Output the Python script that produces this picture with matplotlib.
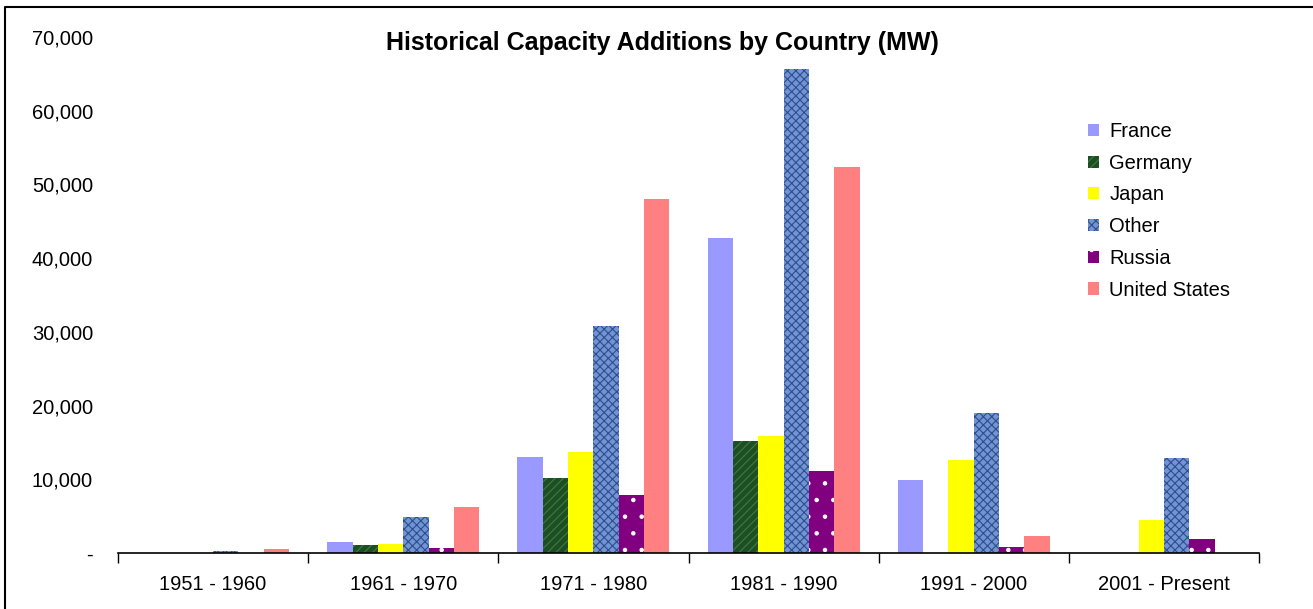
import numpy as np
import matplotlib
matplotlib.use('Agg')
import matplotlib.pyplot as plt
from matplotlib.lines import Line2D
from matplotlib.ticker import FuncFormatter

plt.rcParams['font.family'] = ['Liberation Sans', 'DejaVu Sans']
plt.rcParams['hatch.linewidth'] = 0.8

periods = ['1951 - 1960', '1961 - 1970', '1971 - 1980',
           '1981 - 1990', '1991 - 2000', '2001 - Present']
countries = ['France', 'Germany', 'Japan', 'Other', 'Russia', 'United States']

france = [0, 1500, 13000, 42700, 9900, 0]
germany = [0, 1100, 10200, 15200, 0, 0]
japan = [0, 1200, 13700, 15900, 12600, 4500]
other = [300, 4900, 30800, 65700, 19000, 12900]
russia = [0, 700, 7900, 11100, 800, 1900]
united_states = [600, 6300, 48000, 52400, 2300, 0]

series = [france, germany, japan, other, russia, united_states]
# (face colour, hatch colour, hatch)
styles = [
    ('#9999ff', '#9999ff', None),
    ('#1d4f22', '#3f7a45', '////'),
    ('#ffff00', '#ffff00', None),
    ('#7394d2', '#2c4d8f', 'xxxx'),
    ('#800080', '#ffffff', '.'),
    ('#ff8080', '#ff8080', None),
]

fig = plt.figure(figsize=(13.13, 6.09), dpi=100)
ax = fig.add_axes([118 / 1313, 1 - 553 / 609, 1141 / 1313, 516 / 609])

x = np.arange(len(periods))
width = 0.8 / len(series)
for i, (vals, name, (fc, hc, hatch)) in enumerate(zip(series, countries, styles)):
    ax.bar(x - 0.4 + width * (i + 0.5), vals, width, label=name,
           color=fc, edgecolor=hc, hatch=hatch, linewidth=0)

ax.set_xlim(-0.5, len(periods) - 0.5)
ax.set_ylim(0, 70000)
ax.set_yticks(np.arange(0, 70001, 10000))
ax.yaxis.set_major_formatter(FuncFormatter(lambda v, p: '-' if v == 0 else f'{int(v):,}'))
ax.set_xticks(x)
ax.set_xticklabels(periods)
ax.set_xticks(np.arange(-0.5, len(periods)), minor=True)
ax.tick_params(axis='x', which='major', length=0, pad=16, labelsize=14.5)
ax.tick_params(axis='x', which='minor', length=7, width=1, direction='out')
ax.tick_params(axis='y', length=0, pad=18, labelsize=14.5)

for s in ['top', 'right', 'left']:
    ax.spines[s].set_visible(False)
ax.spines['bottom'].set_linewidth(1.2)

fig.text(662 / 1313, 1 - 43 / 609, 'Historical Capacity Additions by Country (MW)',
         ha='center', va='center', fontsize=18, fontweight='bold')

fig.legend(loc='upper left', bbox_to_anchor=(1070 / 1313, 1 - 104 / 609),
           frameon=False, fontsize=14.5, handlelength=0.55, handleheight=0.55,
           handletextpad=0.5, labelspacing=0.63)

# chart frame (left and top edges visible)
fig.add_artist(Line2D([5 / 1313, 5 / 1313, 1], [0, 1 - 7 / 609, 1 - 7 / 609],
                      transform=fig.transFigure, color='black', linewidth=1.5))

fig.savefig('out.png', dpi=100)
